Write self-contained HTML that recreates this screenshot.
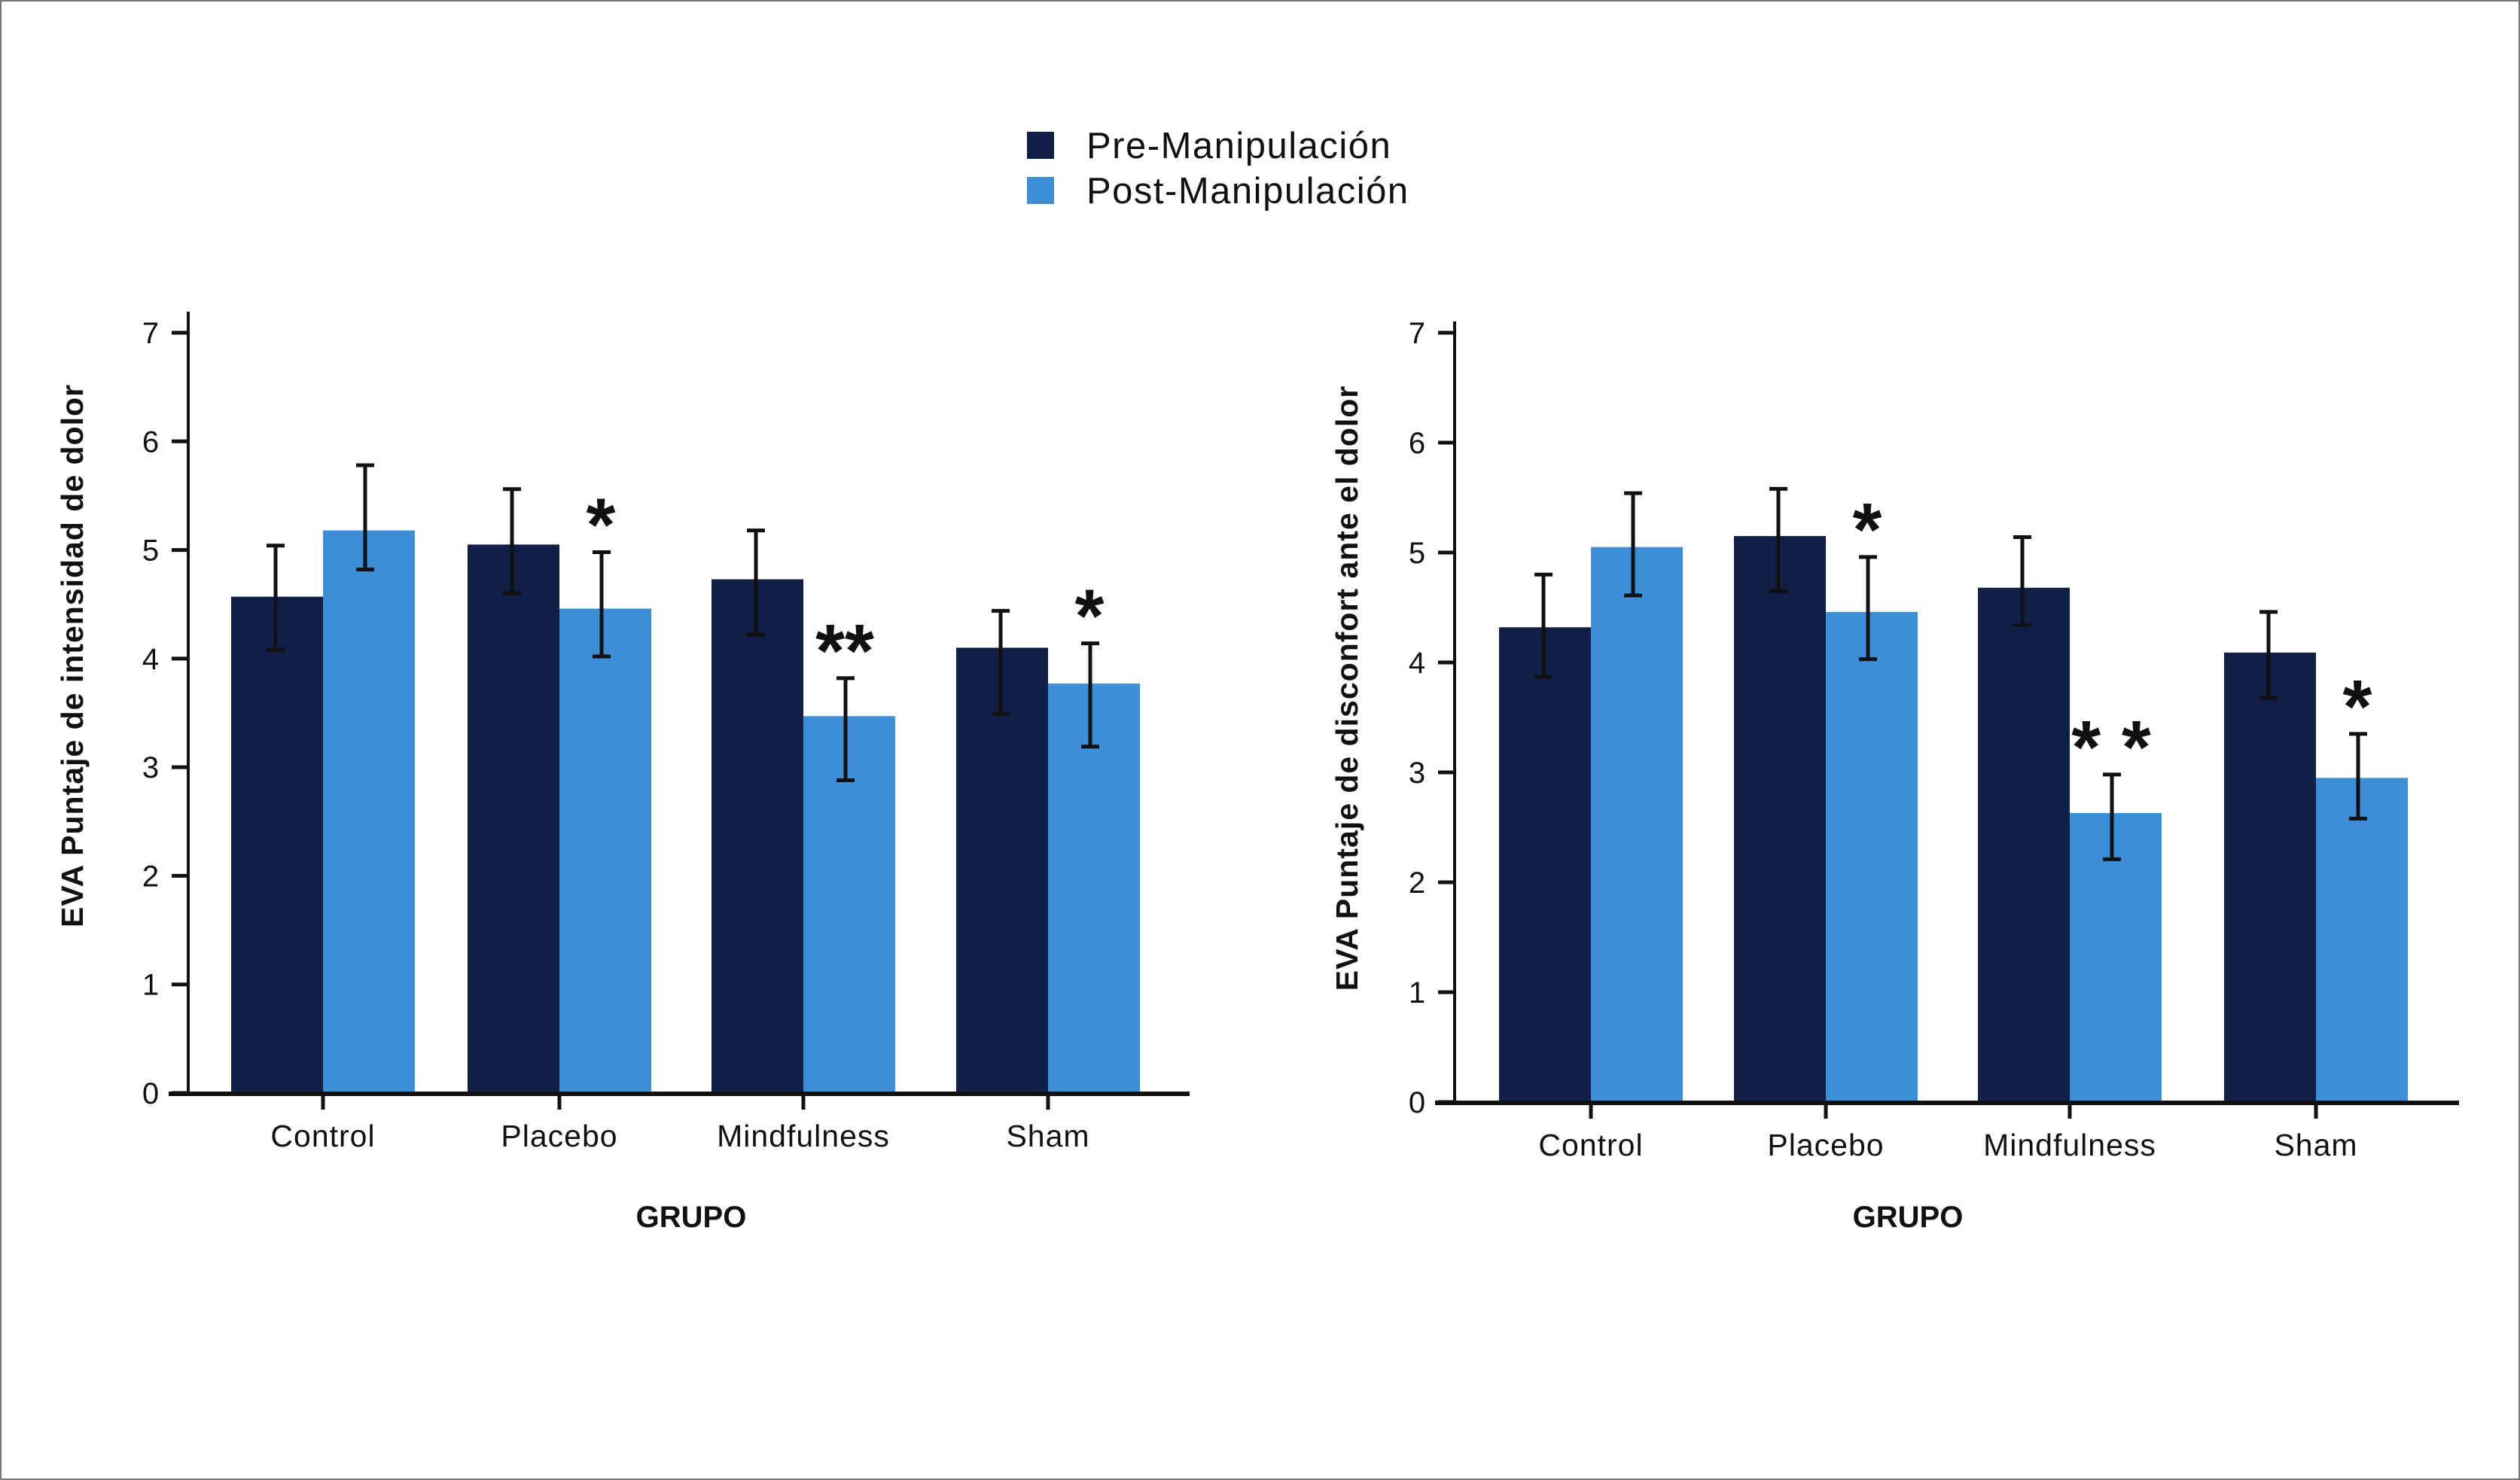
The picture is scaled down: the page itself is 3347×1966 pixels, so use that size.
<!DOCTYPE html>
<html><head><meta charset="utf-8"><style>
html,body{margin:0;padding:0;background:#fff}
svg{display:block}
text{font-family:"Liberation Sans",sans-serif;fill:#111}
</style></head><body>
<svg id="fig" width="3347" height="1966" viewBox="0 0 3347 1966">
<rect x="1" y="1" width="3345" height="1964" fill="#fff" stroke="#777" stroke-width="2"/>
<g>
<rect x="1364" y="175" width="36" height="36" fill="#111e45"/>
<text x="1443" y="210" font-size="49" letter-spacing="1.5">Pre-Manipulación</text>
<rect x="1364" y="235" width="36" height="36" fill="#3c8ed8"/>
<text x="1443" y="270" font-size="49" letter-spacing="1.5">Post-Manipulación</text>
</g>
</svg>
<script>
const categories=["Control","Placebo","Mindfulness","Sham"];
const yTicks=[0,1,2,3,4,5,6,7];
const leftPre=[4.57,5.05,4.73,4.10];
const leftPost=[5.18,4.46,3.47,3.77];
const leftPreLo=[4.08,4.60,4.22,3.49];
const leftPreHi=[5.04,5.56,5.18,4.44];
const leftPostLo=[4.82,4.02,2.88,3.19];
const leftPostHi=[5.78,4.98,3.82,4.14];
const leftSig=["","*","**","*"];
const rightPre=[4.32,5.15,4.68,4.09];
const rightPost=[5.05,4.46,2.63,2.95];
const rightPreLo=[3.87,4.65,4.34,3.68];
const rightPreHi=[4.80,5.58,5.14,4.46];
const rightPostLo=[4.61,4.03,2.21,2.58];
const rightPostHi=[5.54,4.96,2.98,3.35];
const rightSig=["","*","* *","*"];

const NS="http://www.w3.org/2000/svg";
const svg=document.getElementById('fig');
function mk(tag,attrs,parent,txt){const e=document.createElementNS(NS,tag);for(const k in attrs)e.setAttribute(k,attrs[k]);if(txt!==undefined)e.textContent=txt;(parent||svg).appendChild(e);return e;}

function chart(cfg){
  const g=mk('g',{});
  
  
  const y=v=>cfg.y0-(cfg.y0-cfg.y7)*v/7;
  const bw=122;
  categories.forEach((c,i)=>{
    const cx=cfg.centers[i];
    const r1=mk('rect',{x:cx-bw,y:y(cfg.pre[i]),width:bw,height:y(0)-y(cfg.pre[i]),fill:'#111e45'},g);
    
    
    const r2=mk('rect',{x:cx,y:y(cfg.post[i]),width:bw,height:y(0)-y(cfg.post[i]),fill:'#3c8ed8'},g);
    
    
    [[cx-bw/2-2,cfg.preLo[i],cfg.preHi[i],'pre'],[cx+bw/2-5,cfg.postLo[i],cfg.postHi[i],'post']].forEach(([ex,lo,hi,s])=>{
      const eg=mk('g',{stroke:'#111','stroke-width':5},g);
      
      
      mk('line',{x1:ex,x2:ex,y1:y(lo),y2:y(hi)},eg);
      mk('line',{x1:ex-12,x2:ex+12,y1:y(lo),y2:y(lo)},eg);
      mk('line',{x1:ex-12,x2:ex+12,y1:y(hi),y2:y(hi)},eg);
    });
    if(cfg.sig[i]){
      const t=mk('text',{x:cx+bw/2-6,y:y(cfg.postHi[i])-2,'font-size':100,'font-weight':'bold','text-anchor':'middle'},g,cfg.sig[i]);
      
      
    }
    const tk=mk('line',{x1:cx,x2:cx,y1:y(0),y2:y(0)+22,stroke:'#111','stroke-width':5},g);
    
    
    const lb=mk('text',{x:cx,y:y(0)+71,'font-size':41,'text-anchor':'middle','letter-spacing':1},g,c);
    
    
  });
  const ya=mk('line',{x1:cfg.ax,x2:cfg.ax,y1:cfg.top,y2:y(0),stroke:'#111','stroke-width':4},g);
  
  
  const xa=mk('line',{x1:cfg.xs,x2:cfg.xe,y1:y(0)+1,y2:y(0)+1,stroke:'#111','stroke-width':6},g);
  
  
  yTicks.forEach(v=>{
    const t=mk('line',{x1:cfg.ax-22,x2:cfg.ax,y1:y(v),y2:y(v),stroke:'#111','stroke-width':5},g);
    
    
    const l=mk('text',{x:cfg.ax-50,y:y(v)+14,'font-size':40,'text-anchor':'middle'},g,String(v));
    
    
  });
  const yt=mk('text',{x:0,y:0,'font-size':41,'font-weight':'bold','text-anchor':'middle','letter-spacing':1,transform:`translate(${cfg.ytx},${cfg.yty}) rotate(-90)`},g,cfg.ytitle);
  
  
  const xt=mk('text',{x:cfg.xtx,y:1630,'font-size':40,'font-weight':'bold','text-anchor':'middle'},g,'GRUPO');
  
  
}
chart({name:'chart-intensity',y0:1452,y7:442,top:414,ax:250,xs:224,xe:1580,centers:[429,743,1067,1392],
  pre:leftPre,post:leftPost,preLo:leftPreLo,preHi:leftPreHi,postLo:leftPostLo,postHi:leftPostHi,sig:leftSig,
  ytitle:'EVA Puntaje de intensidad de dolor',ytx:110,yty:871,xtx:918});
chart({name:'chart-discomfort',y0:1464,y7:442,top:427,ax:1932,xs:1906,xe:3266,centers:[2113,2425,2749,3076],
  pre:rightPre,post:rightPost,preLo:rightPreLo,preHi:rightPreHi,postLo:rightPostLo,postHi:rightPostHi,sig:rightSig,
  ytitle:'EVA Puntaje de disconfort ante el dolor',ytx:1803,yty:914,xtx:2534});
</script>
</body></html>
